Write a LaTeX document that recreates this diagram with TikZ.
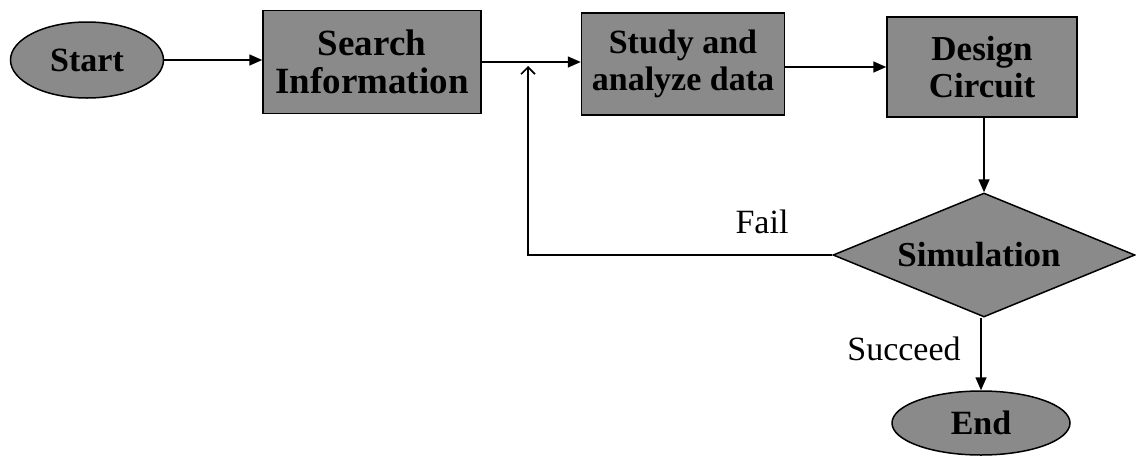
\documentclass[tikz,border=0pt]{standalone}
\usepackage{fontspec}
\setmainfont{Liberation Serif}
\usetikzlibrary{shapes.geometric,arrows.meta}
\definecolor{boxgray}{RGB}{138,138,138}
\tikzset{
  x=1pt, y=-1pt,
  boxtext/.style={font=\fontsize{34}{37}\selectfont\bfseries, align=center},
  procbox/.style={draw=black, line width=1.5pt, fill=boxgray, rectangle, inner sep=0pt, boxtext},
  termnode/.style={draw=black, line width=1.5pt, fill=boxgray, ellipse, inner sep=0pt, boxtext},
  decnode/.style={draw=black, line width=1.5pt, fill=boxgray, diamond, inner sep=0pt},
  flow/.style={line width=1.6pt, -{Triangle[length=13pt,width=11pt]}},
  backflow/.style={line width=1.6pt, -{Straight Barb[length=7pt,width=14pt,line width=1.6pt]}},
  lbl/.style={font=\fontsize{34}{38}\selectfont}
}
\begin{document}
\begin{tikzpicture}
\useasboundingbox (0,0) rectangle (1136,456);
\node[termnode, minimum width=153pt, minimum height=76pt] (start) at (87,60) {Start};
\node[procbox, minimum width=218pt, minimum height=103pt, font=\fontsize{37}{38}\selectfont\bfseries] (search) at (372,62) {Search\\Information};
\node[procbox, minimum width=203pt, minimum height=102pt] (study) at (683,64) {Study and\\analyze data};
\node[procbox, minimum width=190pt, minimum height=100pt, font=\fontsize{35}{37}\selectfont\bfseries] (design) at (982,67) {Design\\Circuit};
\node[decnode, minimum width=302pt, minimum height=124pt] (sim) at (984,255) {};
\node[boxtext, font=\fontsize{35}{37}\selectfont\bfseries] (simtext) at (979,255) {Simulation};
\node[termnode, minimum width=178pt, minimum height=64pt] (end) at (981,423) {End};
\coordinate (fb) at (528,66);
\node[lbl] (fail) at (762,222) {Fail};
\node[lbl] (succ) at (904,349) {Succeed};

\draw[flow] (start.east |- 0,60) -- (search.west |- 0,60);
\draw[flow] (search.east) -- (search.east -| study.west);
\draw[flow] (design.west -| study.east) -- (design.west);
\draw[flow] (design.south -| sim.north) -- (sim.north);
\draw[backflow] (sim.west) -| (fb);
\draw[flow] (sim.south -| end.north) -- (end.north);
\end{tikzpicture}
\end{document}
